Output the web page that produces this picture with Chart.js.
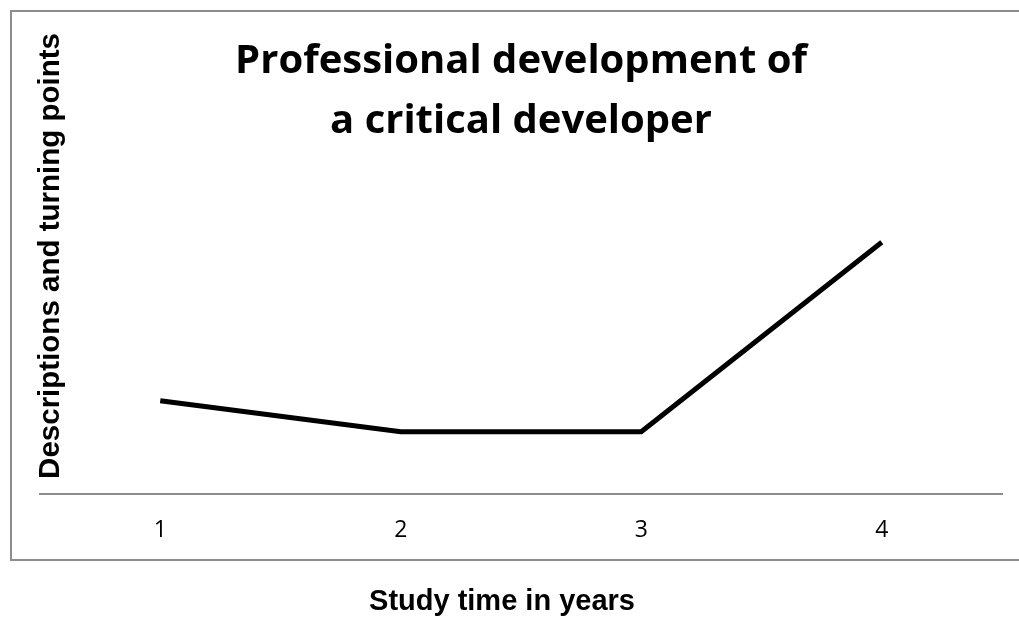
<!DOCTYPE html>
<html>
<head>
<meta charset="utf-8">
<script src="https://cdn.jsdelivr.net/npm/chart.js@4/dist/chart.umd.min.js"></script>
<style>
  html, body { margin: 0; padding: 0; background: #fff; }
  #wrap { position: relative; width: 1019px; height: 617px; }
  #frame {
    position: absolute; left: 10px; top: 10px; width: 1020px; height: 551px;
    border: 2px solid #8c8c8c; box-sizing: border-box;
  }
  canvas { position: absolute; left: 0; top: 0; }
</style>
</head>
<body>
<div id="wrap">
  <div id="frame"></div>
  <canvas id="chart" width="1019" height="617"></canvas>
</div>
<script>
const years = ['1', '2', '3', '4'];
const development = [3, 2, 2, 8.1];
const titleLines = ['Professional development of', 'a critical developer'];
const yTitle = 'Descriptions and turning points';
const xTitle = 'Study time in years';

// axis titles sit inside / below the plot box, so draw them by hand
const axisTitles = {
  id: 'axisTitles',
  afterDraw(chart) {
    const ctx = chart.ctx;
    ctx.save();
    ctx.fillStyle = '#000';
    ctx.font = 'bold 29px "Liberation Sans", Arial, sans-serif';
    ctx.textAlign = 'center';
    ctx.textBaseline = 'middle';
    ctx.fillText(xTitle, 502, 602);
    ctx.font = 'bold 29.5px "Liberation Sans", Arial, sans-serif';
    ctx.translate(51, 256);
    ctx.rotate(-Math.PI / 2);
    ctx.fillText(yTitle, 0, 0);
    ctx.restore();
  }
};

new Chart(document.getElementById('chart'), {
  type: 'line',
  data: {
    labels: years,
    datasets: [{
      data: development,
      borderColor: '#000',
      borderWidth: 5,
      pointRadius: 0,
      tension: 0,
    }],
  },
  options: {
    responsive: false,
    animation: false,
    layout: { padding: { left: 40, right: 17, top: 0, bottom: 0 } },
    plugins: {
      legend: { display: false },
      tooltip: { enabled: false },
      title: {
        display: true,
        text: titleLines,
        fullSize: false,
        color: '#000',
        font: { family: '"Open Sans", sans-serif', size: 40, weight: 'bold', lineHeight: '60px' },
        padding: { top: 32, bottom: 0 },
      },
    },
    scales: {
      x: {
        offset: true,
        grid: { display: false, drawTicks: false },
        border: { display: true, color: '#8c8c8c', width: 2 },
        ticks: { color: '#000', padding: 23, font: { family: '"Open Sans", sans-serif', size: 23 } },
        afterFit(scale) { scale.height = 123; },
      },
      y: {
        display: false,
        min: 0,
        max: 11,
      },
    },
  },
  plugins: [axisTitles],
});
</script>
</body>
</html>
